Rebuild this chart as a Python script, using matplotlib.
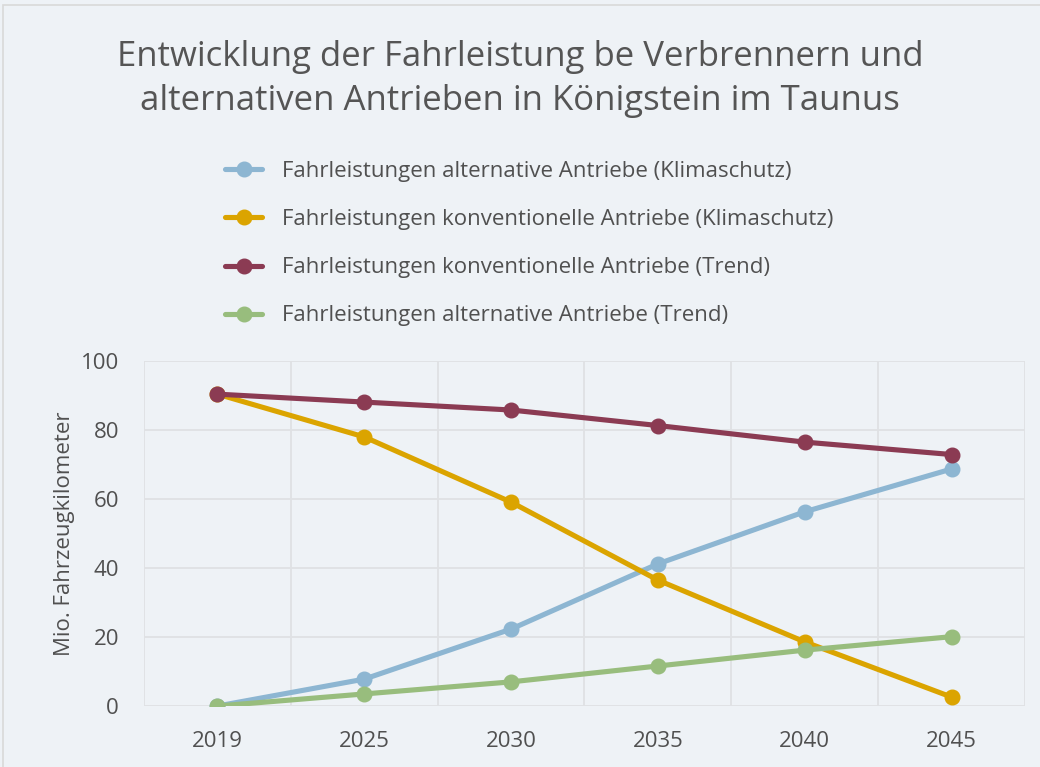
import numpy as np
import matplotlib
matplotlib.use("Agg")
import matplotlib.pyplot as plt
from matplotlib.patches import Rectangle

plt.rcParams['font.family'] = ['Open Sans', 'DejaVu Sans']

# Jahre und Fahrleistungen in Mio. Fahrzeugkilometer
years = ['2019', '2025', '2030', '2035', '2040', '2045']
alt_klima = [0.0, 7.8, 22.3, 41.2, 56.3, 68.7]
konv_klima = [90.4, 78.0, 59.1, 36.5, 18.6, 2.6]
konv_trend = [90.4, 88.1, 85.8, 81.3, 76.5, 72.9]
alt_trend = [0.0, 3.5, 7.0, 11.6, 16.2, 20.1]

labels = [
    'Fahrleistungen alternative Antriebe (Klimaschutz)',
    'Fahrleistungen konventionelle Antriebe (Klimaschutz)',
    'Fahrleistungen konventionelle Antriebe (Trend)',
    'Fahrleistungen alternative Antriebe (Trend)',
]
colors = ['#8db6d2', '#dba400', '#8b3b53', '#98bd7d']
series = [alt_klima, konv_klima, konv_trend, alt_trend]

bg = '#eef2f6'
grid_c = '#dfe1e4'
text_c = '#505050'

fig = plt.figure(figsize=(10.4, 7.67), dpi=100, facecolor=bg)
ax = fig.add_axes([0.1385, 0.0795, 0.847, 0.4498], facecolor=bg)

x = np.arange(len(years))
for vals, col, lab in zip(series, colors, labels):
    ax.plot(x, vals, color=col, lw=3.7, marker='o', ms=10.5, label=lab,
            solid_capstyle='round')

ax.set_xlim(-0.5, len(years) - 0.5)
ax.set_ylim(0, 100)
ax.set_yticks(np.arange(0, 101, 20))
ax.set_xticks(x)
ax.set_xticklabels(years)
ax.set_xticks(np.arange(-0.5, len(years), 1), minor=True)
ax.grid(axis='y', which='major', color=grid_c, lw=1.3)
ax.grid(axis='x', which='minor', color=grid_c, lw=1.3)
ax.set_axisbelow(True)
for s in ax.spines.values():
    s.set_visible(False)
ax.tick_params(which='both', length=0, labelsize=16, labelcolor=text_c)
ax.tick_params(axis='y', pad=18)
ax.tick_params(axis='x', pad=18)
ax.set_ylabel('Mio. Fahrzeugkilometer', fontsize=16, color=text_c, labelpad=4)

fig.text(0.5, 0.897, 'Entwicklung der Fahrleistung be Verbrennern und\n'
         'alternativen Antrieben in Königstein im Taunus',
         ha='center', va='center', fontsize=25, color='#555555',
         linespacing=1.42)

leg = fig.legend(loc='upper left', bbox_to_anchor=(0.216, 0.790),
                 frameon=False, fontsize=16, labelcolor=text_c,
                 handlelength=1.7, handletextpad=0.9, labelspacing=1.22,
                 borderaxespad=0, borderpad=0)

# Rahmen um das Diagramm
fig.patches.append(Rectangle((0.003, -0.01), 1.1, 1.003, transform=fig.transFigure,
                             fill=False, edgecolor='#d9d9d9', lw=1.2))

fig.savefig('out.png', dpi=100, facecolor=bg)
